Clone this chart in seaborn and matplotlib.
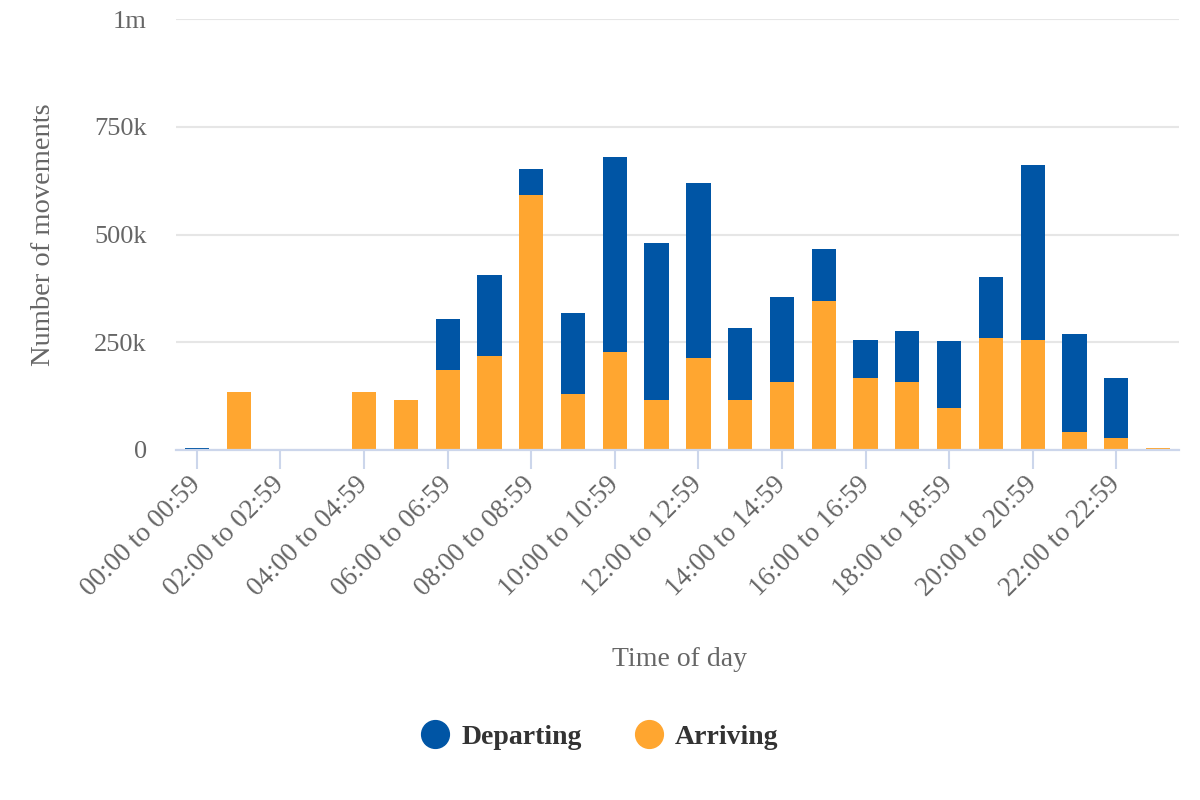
import matplotlib
matplotlib.use("Agg")
import matplotlib.pyplot as plt
from matplotlib.lines import Line2D
import seaborn as sns
import pandas as pd
import numpy as np

categories = [
    "00:00 to 00:59", "01:00 to 01:59", "02:00 to 02:59", "03:00 to 03:59",
    "04:00 to 04:59", "05:00 to 05:59", "06:00 to 06:59", "07:00 to 07:59",
    "08:00 to 08:59", "09:00 to 09:59", "10:00 to 10:59", "11:00 to 11:59",
    "12:00 to 12:59", "13:00 to 13:59", "14:00 to 14:59", "15:00 to 15:59",
    "16:00 to 16:59", "17:00 to 17:59", "18:00 to 18:59", "19:00 to 19:59",
    "20:00 to 20:59", "21:00 to 21:59", "22:00 to 22:59", "23:00 to 23:59",
]
arriving = [0, 135, 0, 0, 135, 116, 186, 219, 592, 130, 228, 116,
            214, 116, 158, 345, 168, 158, 98, 261, 256, 42, 28, 5]
departing = [5, 0, 0, 0, 0, 0, 117, 186, 60, 187, 452, 364,
             406, 168, 196, 121, 88, 117, 154, 140, 406, 228, 140, 0]
ytick_values = [0, 250000, 500000, 750000, 1000000]
ytick_labels = ["0", "250k", "500k", "750k", "1m"]

BLUE = "#0055a5"
ORANGE = "#ffa630"
GRID = "#e6e6e6"
AXIS = "#ccd6eb"
TXT = "#666666"

df = pd.DataFrame({
    "time": categories,
    "arriving": np.array(arriving) * 1000,
    "departing": np.array(departing) * 1000,
})
df["total"] = df["arriving"] + df["departing"]

sns.set_theme(style="white")
plt.rcParams["font.family"] = ["Liberation Serif", "DejaVu Serif"]

fig = plt.figure(figsize=(12, 8), dpi=100)
ax = fig.add_axes([176 / 1200, 1 - 450 / 800, 1003 / 1200, 431 / 800])

sns.barplot(data=df, x="time", y="total", order=categories, color=BLUE,
            width=0.58, saturation=1, ax=ax, zorder=3, linewidth=0)
sns.barplot(data=df, x="time", y="arriving", order=categories, color=ORANGE,
            width=0.58, saturation=1, ax=ax, zorder=3, linewidth=0)

ax.set_xlim(-0.5, len(categories) - 0.5)
ax.set_ylim(0, 1000000)
ax.set_yticks(ytick_values)
ax.set_yticklabels(ytick_labels)
ax.yaxis.grid(True, color=GRID, linewidth=1.5, zorder=0)
ax.set_axisbelow(True)

tick_pos = list(range(0, len(categories), 2))
ax.set_xticks(tick_pos)
ax.set_xticklabels([categories[i] for i in tick_pos], rotation=45,
                   ha="right", va="center", rotation_mode="anchor")

for s in ["top", "right", "left"]:
    ax.spines[s].set_visible(False)
ax.spines["bottom"].set_color(AXIS)
ax.spines["bottom"].set_linewidth(1.6)
ax.spines["bottom"].set_zorder(4)

ax.tick_params(axis="x", length=14, width=1.5, color=AXIS, pad=8,
               labelsize=19.5, labelcolor=TXT, bottom=True)
ax.tick_params(axis="y", length=0, pad=21, labelsize=19, labelcolor=TXT)

ax.set_xlabel("Time of day", fontsize=20, color=TXT)
ax.xaxis.set_label_coords((680 - 176) / 1003, (450 - 659) / 431)
ax.xaxis.label.set_va("center")
ax.set_ylabel("Number of movements", fontsize=20.5, color=TXT)
ax.yaxis.set_label_coords((56 - 176) / 1003, 0.5)

handles = [
    Line2D([0], [0], marker="o", linestyle="", markersize=20,
           markerfacecolor=BLUE, markeredgecolor=BLUE, label="Departing"),
    Line2D([0], [0], marker="o", linestyle="", markersize=20,
           markerfacecolor=ORANGE, markeredgecolor=ORANGE, label="Arriving"),
]
fig.legend(handles=handles, loc="center", bbox_to_anchor=(0.5, 1 - 737 / 800),
           ncol=2, frameon=False, handletextpad=0.45, columnspacing=1.9,
           handlelength=1.0,
           prop={"weight": "bold", "size": 20},
           labelcolor="#333333")

fig.savefig("out.png", dpi=100, facecolor="white")
